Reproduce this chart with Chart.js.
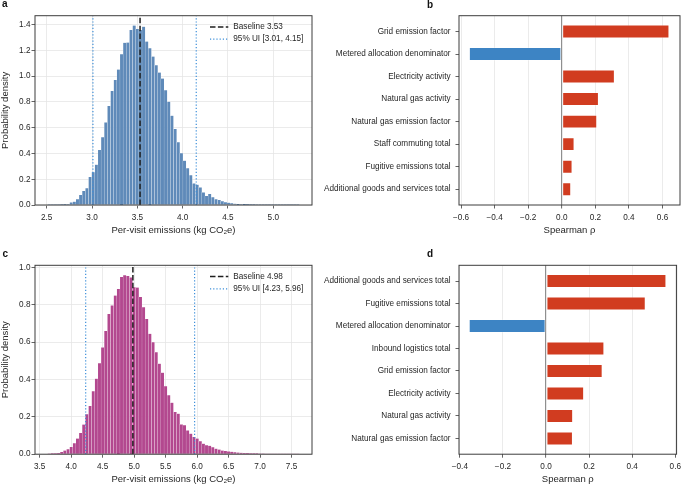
<!DOCTYPE html>
<html>
<head>
<meta charset="utf-8">
<script src="https://cdn.jsdelivr.net/npm/chart.js@4.4.1/dist/chart.umd.min.js"></script>
<style>
html,body{margin:0;padding:0;background:#fff;}
#fig{position:relative;width:685px;height:487px;overflow:hidden;font-family:'Liberation Sans',Arial,sans-serif;}
.panel{position:absolute;}
.panel canvas{display:block;}
.tag{position:absolute;font-weight:bold;font-size:10px;line-height:10px;color:#111;}
</style>
</head>
<body>
<div id="fig">
  <div class="panel" style="left:0;top:0"><canvas id="histA" width="340" height="240" style="width:340px;height:240px"></canvas></div>
  <div class="panel" style="left:310px;top:0"><canvas id="rhoB" width="375" height="240" style="width:375px;height:240px"></canvas></div>
  <div class="panel" style="left:0;top:240px"><canvas id="histC" width="340" height="247" style="width:340px;height:247px"></canvas></div>
  <div class="panel" style="left:310px;top:240px"><canvas id="rhoD" width="375" height="247" style="width:375px;height:247px"></canvas></div>
  <div class="tag" style="left:2px;top:-1px">a</div>
  <div class="tag" style="left:427px;top:0px">b</div>
  <div class="tag" style="left:2.5px;top:249px">c</div>
  <div class="tag" style="left:427px;top:249px">d</div>
</div>
<script>
// panel a: Monte Carlo histogram (80 bins)
const binStartA = 2.510, binWidthA = 0.03473;
const densityA = [
  0.002, 0.002, 0.003, 0.003, 0.004, 0.005,
  0.008, 0.020, 0.026, 0.045, 0.078, 0.110, 0.130, 0.218, 0.254, 0.313,
  0.427, 0.526, 0.642, 0.770, 0.886, 0.972, 1.052, 1.171, 1.260, 1.262,
  1.360, 1.394, 1.368, 1.360, 1.385, 1.270, 1.218, 1.153, 1.085, 1.029,
  0.982, 0.891, 0.803, 0.694, 0.591, 0.487, 0.402, 0.345, 0.285, 0.231,
  0.168, 0.158, 0.137, 0.098, 0.070, 0.085, 0.060, 0.045, 0.040, 0.030,
  0.022, 0.018, 0.014, 0.011, 0.009, 0.007, 0.006, 0.005, 0.004, 0.004,
  0.003, 0.003, 0.002, 0.002, 0.002, 0.002, 0.002, 0.002,
  0.001, 0.001, 0.001, 0.001, 0.001, 0.001
];
const baselineA = 3.53;
const uiA = [3.01, 4.15];
const xTicksA = [2.5, 3.0, 3.5, 4.0, 4.5, 5.0];
const yTicksA = [0, 0.2, 0.4, 0.6, 0.8, 1.0, 1.2, 1.4];

// panel c
const binStartC = 3.625, binWidthC = 0.05;
const densityC = [
  0.003, 0.004, 0.005, 0.007, 0.012, 0.020, 0.027, 0.039, 0.059, 0.084,
  0.114, 0.159, 0.214, 0.258, 0.337, 0.405, 0.488, 0.572, 0.660, 0.752,
  0.797, 0.850, 0.886, 0.950, 0.959, 0.955, 0.947, 0.895, 0.893, 0.843,
  0.788, 0.725, 0.645, 0.600, 0.547, 0.485, 0.437, 0.365, 0.316, 0.276,
  0.226, 0.217, 0.160, 0.155, 0.128, 0.110, 0.093, 0.084, 0.070, 0.057,
  0.048, 0.045, 0.038, 0.030, 0.025, 0.020, 0.017, 0.015, 0.013, 0.011,
  0.009, 0.008, 0.007, 0.006, 0.005, 0.004, 0.004, 0.003, 0.003, 0.002,
  0.002, 0.002, 0.002, 0.001, 0.001, 0.001, 0.001, 0.001, 0.001, 0.001
];
const baselineC = 4.98;
const uiC = [4.23, 5.96];
const xTicksC = [3.5, 4.0, 4.5, 5.0, 5.5, 6.0, 6.5, 7.0, 7.5];
const yTicksC = [0, 0.2, 0.4, 0.6, 0.8, 1.0];

// panels b and d: Spearman rank correlations
const driversB = ['Grid emission factor', 'Metered allocation denominator', 'Electricity activity',
  'Natural gas activity', 'Natural gas emission factor', 'Staff commuting total',
  'Fugitive emissions total', 'Additional goods and services total'];
const rhoB = [0.640, -0.552, 0.315, 0.220, 0.210, 0.075, 0.063, 0.055];
const rhoTicksB = [-0.6, -0.4, -0.2, 0, 0.2, 0.4, 0.6];

const driversD = ['Additional goods and services total', 'Fugitive emissions total', 'Metered allocation denominator',
  'Inbound logistics total', 'Grid emission factor', 'Electricity activity',
  'Natural gas activity', 'Natural gas emission factor'];
const rhoD = [0.558, 0.462, -0.358, 0.270, 0.262, 0.176, 0.125, 0.124];
const rhoTicksD = [-0.4, -0.2, 0, 0.2, 0.4, 0.6];

Chart.defaults.font.family = "'Liberation Sans', Arial, sans-serif";
Chart.defaults.font.size = 8.2;
Chart.defaults.color = '#262626';
Chart.defaults.animation = false;

const SPINE = '#3c3c3c';
const GRID = '#e6e6e6';

const framePlugin = {
  id:'frame',
  afterDraw(chart){
    const {ctx, chartArea:a} = chart;
    ctx.save();
    ctx.strokeStyle = SPINE;
    ctx.lineWidth = 1;
    ctx.strokeRect(a.left, a.top, a.right - a.left, a.bottom - a.top);
    ctx.restore();
  }
};

const insideLegend = {
  id:'insideLegend',
  afterDraw(chart){
    const {ctx, chartArea:a} = chart;
    let y = a.top + 11.3;
    chart.data.datasets.forEach(ds=>{
      if(!ds.inLegend) return;
      ctx.save();
      ctx.strokeStyle = ds.borderColor;
      ctx.lineWidth = ds.borderWidth;
      ctx.setLineDash(ds.borderDash || []);
      ctx.beginPath();
      ctx.moveTo(a.right - 102, y);
      ctx.lineTo(a.right - 83.7, y);
      ctx.stroke();
      ctx.setLineDash([]);
      ctx.fillStyle = '#262626';
      ctx.font = "8.2px 'Liberation Sans', Arial, sans-serif";
      ctx.textBaseline = 'middle';
      ctx.fillText(ds.label, a.right - 78.7, y);
      ctx.restore();
      y += 12.2;
    });
  }
};

const fmtSigned = v => (v < 0 ? '\u2212' : '') + Math.abs(v).toFixed(1);

function drawHist(id, o){
  const bars = o.density.map((d, k)=>({x: o.binStart + o.binWidth*(k + 0.5), y: d}));
  const top = o.yMax;
  return new Chart(document.getElementById(id), {
    type:'bar',
    data:{ datasets:[
      { type:'line', inLegend:true, label:`Baseline ${o.baseline.toFixed(2)}`,
        data:[{x:o.baseline, y:0}, {x:o.baseline, y:top}],
        borderColor:'#1f1f1f', borderWidth:1.5, borderDash:[5.5, 2.4], pointRadius:0, order:0 },
      { type:'line', inLegend:true, label:`95% UI [${o.ui[0].toFixed(2)}, ${o.ui[1].toFixed(2)}]`,
        data:[{x:o.ui[0], y:0}, {x:o.ui[0], y:top}, {x:(o.ui[0] + o.ui[1])/2, y:null}, {x:o.ui[1], y:0}, {x:o.ui[1], y:top}],
        borderColor:'#3d8fd9', borderWidth:1.2, borderDash:[1.2, 2], pointRadius:0, spanGaps:false, order:0 },
      { label:'density', data:bars, backgroundColor:o.color, borderColor:'rgba(255,255,255,0.6)',
        borderWidth:0.4, barPercentage:1, categoryPercentage:1, order:1 }
    ]},
    options:{
      responsive:false,
      layout:{ padding:{ top:o.padTop, right:28, left:0, bottom:0 } },
      plugins:{ legend:{ display:false }, tooltip:{ enabled:false } },
      scales:{
        x:{ type:'linear', min:o.xMin, max:o.xMax, offset:false,
          afterBuildTicks: s => { s.ticks = o.xTicks.map(v=>({value:v})); },
          afterFit: s => { s.height = o.xAxisH; },
          ticks:{ callback: v => v.toFixed(1), padding:4, maxRotation:0, autoSkip:false },
          grid:{ offset:false, color:GRID, lineWidth:0.8, tickColor:SPINE, tickLength:3.5, tickWidth:0.8 },
          border:{ display:false },
          title:{ display:true, text:'Per-visit emissions (kg CO\u2082e)', font:{ size:9.5 }, padding:{ top:0, bottom:o.titlePad } } },
        y:{ type:'linear', min:0, max:o.yMax,
          afterBuildTicks: s => { s.ticks = o.yTicks.map(v=>({value:v})); },
          afterFit: s => { s.width = 35; },
          ticks:{ callback: v => v.toFixed(1), padding:1, autoSkip:false },
          grid:{ color:GRID, lineWidth:0.8, tickColor:SPINE, tickLength:3.5, tickWidth:0.8 },
          border:{ display:false },
          title:{ display:true, text:'Probability density', font:{ size:9.5 }, padding:{ top:0, bottom:0 } } }
      }
    },
    plugins:[framePlugin, insideLegend]
  });
}

function drawRho(id, o){
  return new Chart(document.getElementById(id), {
    type:'bar',
    data:{ datasets:[{
      data:o.rho.map((v, i)=>({x:v, y:i})),
      backgroundColor:o.rho.map(v => v < 0 ? '#3d84c4' : '#d13c20'),
      borderColor:'rgba(255,255,255,0.45)', borderWidth:0.8, borderSkipped:false,
      barPercentage:0.6, categoryPercentage:1
    }]},
    options:{
      responsive:false,
      indexAxis:'y',
      layout:{ padding:{ top:o.padTop, right:5, left:0, bottom:0 } },
      plugins:{ legend:{ display:false }, tooltip:{ enabled:false } },
      scales:{
        x:{ type:'linear', min:o.xMin, max:o.xMax,
          afterBuildTicks: s => { s.ticks = o.xTicks.map(v=>({value:v})); },
          afterFit: s => { s.height = o.xAxisH; },
          ticks:{ callback: fmtSigned, padding:4, maxRotation:0, autoSkip:false },
          grid:{ color: c => (c.tick && c.tick.value === 0) ? '#8f8f8f' : GRID,
                 lineWidth: c => (c.tick && c.tick.value === 0) ? 1.2 : 0.8,
                 tickColor:SPINE, tickLength:3.5, tickWidth:0.8 },
          border:{ display:false },
          title:{ display:true, text:'Spearman \u03c1', font:{ size:9.5 }, padding:{ top:0, bottom:o.titlePad } } },
        y:{ type:'linear', reverse:true, min:-0.7, max:7.7, offset:false,
          afterBuildTicks: s => { s.ticks = o.drivers.map((_, i)=>({value:i})); },
          afterFit: s => { s.width = 149; },
          ticks:{ callback: v => o.drivers[v], padding:5, autoSkip:false },
          grid:{ offset:false, drawOnChartArea:false, tickColor:SPINE, tickLength:3.5, tickWidth:0.8 },
          border:{ display:false } }
      }
    },
    plugins:[framePlugin]
  });
}

drawHist('histA', { density:densityA, binStart:binStartA, binWidth:binWidthA, baseline:baselineA, ui:uiA,
  xTicks:xTicksA, yTicks:yTicksA, xMin:2.371, xMax:5.427, yMax:1.47, color:'#5f8ab9',
  padTop:15.7, xAxisH:35, titlePad:3.6 });
drawHist('histC', { density:densityC, binStart:binStartC, binWidth:binWidthC, baseline:baselineC, ui:uiC,
  xTicks:xTicksC, yTicks:yTicksC, xMin:3.425, xMax:7.825, yMax:1.012, color:'#b3488f',
  padTop:25.3, xAxisH:32.8, titlePad:2 });
drawRho('rhoB', { rho:rhoB, drivers:driversB, xTicks:rhoTicksB, xMin:-0.612, xMax:0.704,
  padTop:15.7, xAxisH:35, titlePad:3.6 });
drawRho('rhoD', { rho:rhoD, drivers:driversD, xTicks:rhoTicksD, xMin:-0.404, xMax:0.606,
  padTop:25.3, xAxisH:32.8, titlePad:2 });
</script>
</body>
</html>
